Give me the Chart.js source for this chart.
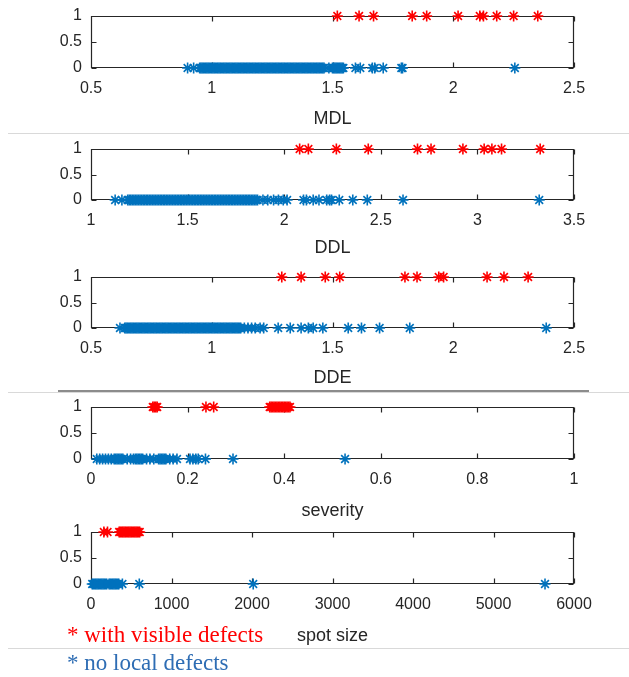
<!DOCTYPE html>
<html>
<head>
<meta charset="utf-8">
<script src="https://cdn.jsdelivr.net/npm/chart.js@4.4.1/dist/chart.umd.min.js"></script>
<style>
  body { margin: 0; background: #fff; width: 629px; height: 677px; position: relative; overflow: hidden; }
  canvas { position: absolute; left: 0; }
  .rule { position: absolute; height: 1px; background: #d9d9d9; }
  .note { position: absolute; left: 67px; font-family: "Liberation Serif", "Times New Roman", serif;
          font-size: 23px; line-height: 26px; white-space: nowrap; }
</style>
</head>
<body>
<div class="rule" style="left:8px;right:0;top:133px"></div>
<div class="rule" style="left:8px;right:0;top:392px"></div>
<div class="rule" style="left:58px;width:531px;top:390px;height:2px;background:#8c8c8c"></div>
<div class="rule" style="left:8px;right:0;top:648px"></div>

<canvas id="c1" width="629" height="126" style="top:4px"></canvas>
<canvas id="c2" width="629" height="122" style="top:137px"></canvas>
<canvas id="c3" width="629" height="124" style="top:265px"></canvas>
<canvas id="c4" width="629" height="127" style="top:395px"></canvas>
<canvas id="c5" width="629" height="127" style="top:520px"></canvas>

<div class="note" style="top:622px;color:#ff0000">* with visible defects</div>
<div class="note" style="top:650px;color:#2e6db4">* no local defects</div>

<script>
// ---------------- DATA ----------------
const yTicks = [0, 0.5, 1];

// MDL
const mdlDefect = [1.52, 1.61, 1.67, 1.83, 1.89, 2.02, 2.11, 2.125, 2.18, 2.25, 2.35];
const mdlClean = [0.90, 0.925,
  0.950, 0.955, 0.960, 0.965, 0.970, 0.975, 0.980, 0.985, 0.990, 0.995,
  1.000, 1.005, 1.010, 1.015, 1.020, 1.025, 1.030, 1.035, 1.040, 1.045,
  1.050, 1.055, 1.060, 1.065, 1.070, 1.075, 1.080, 1.085, 1.090, 1.095,
  1.100, 1.105, 1.110, 1.115, 1.120, 1.125, 1.130, 1.135, 1.140, 1.145,
  1.150, 1.155, 1.160, 1.165, 1.170, 1.175, 1.180, 1.185, 1.190, 1.195,
  1.200, 1.205, 1.210, 1.215, 1.220, 1.225, 1.230, 1.235, 1.240, 1.245,
  1.250, 1.255, 1.260, 1.265, 1.270, 1.275, 1.280, 1.285, 1.290, 1.295,
  1.300, 1.305, 1.310, 1.315, 1.320, 1.325, 1.330, 1.335, 1.340, 1.345,
  1.350, 1.355, 1.360, 1.365, 1.370, 1.375, 1.380, 1.385, 1.390, 1.395,
  1.400, 1.405, 1.410, 1.415, 1.420, 1.425, 1.430, 1.435, 1.440, 1.445,
  1.450, 1.455, 1.460, 1.465,
  1.485, 1.500, 1.505, 1.510, 1.515, 1.520, 1.525, 1.530, 1.535, 1.540, 1.545,
  1.595, 1.615, 1.665, 1.675, 1.71, 1.785, 1.79, 2.255];

// DDL
const ddlDefect = [2.08, 2.125, 2.27, 2.435, 2.69, 2.76, 2.925, 3.035, 3.075, 3.125, 3.325];
const ddlClean = [1.125, 1.16,
  1.190, 1.198, 1.206, 1.214, 1.222, 1.230, 1.238, 1.246, 1.254, 1.262,
  1.270, 1.278, 1.286, 1.294, 1.302, 1.310, 1.318, 1.326, 1.334, 1.342,
  1.350, 1.358, 1.366, 1.374, 1.382, 1.390, 1.398, 1.406, 1.414, 1.422,
  1.430, 1.438, 1.446, 1.454, 1.462, 1.470, 1.478, 1.486, 1.494, 1.502,
  1.510, 1.518, 1.526, 1.534, 1.542, 1.550, 1.558, 1.566, 1.574, 1.582,
  1.590, 1.598, 1.606, 1.614, 1.622, 1.630, 1.638, 1.646, 1.654, 1.662,
  1.670, 1.678, 1.686, 1.694, 1.702, 1.710, 1.718, 1.726, 1.734, 1.742,
  1.750, 1.758, 1.766, 1.774, 1.782, 1.790, 1.798, 1.806, 1.814, 1.822,
  1.830, 1.838, 1.846, 1.854, 1.862,
  1.89, 1.915, 1.945, 1.97, 1.995, 2.015, 2.10, 2.115, 2.15, 2.18, 2.22, 2.235, 2.245, 2.285,
  2.355, 2.43, 2.615, 3.32];

// DDE
const ddeDefect = [1.29, 1.37, 1.47, 1.53, 1.80, 1.85, 1.94, 1.96, 2.14, 2.21, 2.31];
const ddeClean = [0.62,
  0.640, 0.645, 0.650, 0.655, 0.660, 0.665, 0.670, 0.675, 0.680, 0.685,
  0.690, 0.695, 0.700, 0.705, 0.710, 0.715, 0.720, 0.725, 0.730, 0.735,
  0.740, 0.745, 0.750, 0.755, 0.760, 0.765, 0.770, 0.775, 0.780, 0.785,
  0.790, 0.795, 0.800, 0.805, 0.810, 0.815, 0.820, 0.825, 0.830, 0.835,
  0.840, 0.845, 0.850, 0.855, 0.860, 0.865, 0.870, 0.875, 0.880, 0.885,
  0.890, 0.895, 0.900, 0.905, 0.910, 0.915, 0.920, 0.925, 0.930, 0.935,
  0.940, 0.945, 0.950, 0.955, 0.960, 0.965, 0.970, 0.975, 0.980, 0.985,
  0.990, 0.995, 1.000, 1.005, 1.010, 1.015, 1.020, 1.025, 1.030, 1.035,
  1.040, 1.045, 1.050, 1.055, 1.060, 1.065, 1.070, 1.075, 1.080, 1.085,
  1.090, 1.095, 1.100, 1.105, 1.110, 1.115, 1.120,
  1.135, 1.15, 1.165, 1.18, 1.20, 1.215, 1.275, 1.325, 1.37, 1.40, 1.42, 1.46, 1.565, 1.62,
  1.695, 1.82, 2.385];

// severity
const sevDefect = [0.128, 0.131, 0.134, 0.137, 0.238, 0.254,
  0.370, 0.373, 0.376, 0.379, 0.382, 0.385, 0.388, 0.391, 0.394, 0.397, 0.400, 0.403,
  0.406, 0.409, 0.412];
const sevClean = [0.012, 0.018, 0.024, 0.030, 0.036, 0.042,
  0.048, 0.051, 0.054, 0.057, 0.060, 0.063, 0.066, 0.075, 0.082, 0.088,
  0.092, 0.095, 0.098, 0.101, 0.104, 0.107, 0.115, 0.122, 0.130,
  0.140, 0.143, 0.146, 0.149, 0.152, 0.155, 0.163, 0.170, 0.178,
  0.205, 0.211, 0.217, 0.222, 0.237, 0.294, 0.526];

// spot size
const spotDefect = [160, 205,
  350, 365, 380, 395, 410, 425, 440, 455, 470, 485, 500, 515, 530, 545, 560, 575, 590, 605];
const spotClean = [15, 30, 45, 60, 75, 90, 105, 120, 135, 150, 165, 180, 195,
  225, 240, 255, 270, 285, 300, 315, 330, 345,
  390, 600, 2015, 5640];

// ---------------- STYLE ----------------
const RED = "#ff0000";
const BLUE = "#0072bd";
const AXIS = "#262626";
const FONT = "'Liberation Sans', Arial, sans-serif";

// box with inward ticks on all four sides, like a MATLAB axes
const boxPlugin = {
    id: "box",
    beforeDatasetsDraw(chart) {
        const { ctx, chartArea: a, scales: { x, y } } = chart;
        const L = Math.round(a.left) + 0.5, R = Math.round(a.right) - 0.5;
        const T = Math.round(a.top) + 0.5, B = Math.round(a.bottom) - 0.5;
        ctx.save();
        ctx.strokeStyle = AXIS;
        ctx.lineWidth = 1.2;
        ctx.beginPath();
        ctx.rect(L, T, R - L, B - T);
        x.ticks.forEach(t => {
            const px = Math.round(x.getPixelForValue(t.value)) + 0.5;
            ctx.moveTo(px, B); ctx.lineTo(px, B - 5);
            ctx.moveTo(px, T); ctx.lineTo(px, T + 5);
        });
        y.ticks.forEach(t => {
            const py = Math.round(y.getPixelForValue(t.value)) + 0.5;
            ctx.moveTo(L, py); ctx.lineTo(L + 5, py);
            ctx.moveTo(R, py); ctx.lineTo(R - 5, py);
        });
        ctx.stroke();
        ctx.restore();
    }
};

function starSet(values, level, color) {
    return {
        data: values.map(v => ({ x: v, y: level })),
        pointStyle: "star",
        pointRadius: 5.5,
        pointBorderWidth: 1.6,
        pointBorderColor: color,
        borderColor: color,
        backgroundColor: color,
        clip: false
    };
}

function makePlot(id, title, xMin, xMax, step, defect, clean, axisH) {
    new Chart(document.getElementById(id), {
        type: "scatter",
        data: {
            datasets: [starSet(clean, 0, BLUE), starSet(defect, 1, RED)]
        },
        options: {
            responsive: false,
            animation: false,
            events: [],
            layout: { autoPadding: false, padding: { left: 0, right: 55, top: 12, bottom: 0 } },
            plugins: { legend: { display: false }, tooltip: { enabled: false } },
            scales: {
                x: {
                    type: "linear",
                    min: xMin,
                    max: xMax,
                    grid: { display: false, drawTicks: false },
                    border: { display: false },
                    ticks: {
                        stepSize: step,
                        padding: 11,
                        color: AXIS,
                        font: { family: FONT, size: 16 },
                        maxRotation: 0,
                        callback: v => String(Number(v.toFixed(4)))
                    },
                    title: {
                        display: true,
                        text: title,
                        color: AXIS,
                        font: { family: FONT, size: 18 },
                        padding: { top: 0, bottom: 0 }
                    },
                    afterFit: s => { s.height = axisH; s.paddingLeft = 0; s.paddingRight = 0; }
                },
                y: {
                    type: "linear",
                    min: 0,
                    max: 1,
                    grid: { display: false, drawTicks: false },
                    border: { display: false },
                    afterBuildTicks: s => { s.ticks = yTicks.map(v => ({ value: v })); },
                    ticks: {
                        padding: 9,
                        color: AXIS,
                        font: { family: FONT, size: 16 },
                        callback: v => String(v)
                    },
                    afterFit: s => { s.width = 91; s.paddingTop = 0; s.paddingBottom = 0; }
                }
            }
        },
        plugins: [boxPlugin]
    });
}

makePlot("c1", "MDL", 0.5, 2.5, 0.5, mdlDefect, mdlClean, 62);
makePlot("c2", "DDL", 1, 3.5, 0.5, ddlDefect, ddlClean, 59);
makePlot("c3", "DDE", 0.5, 2.5, 0.5, ddeDefect, ddeClean, 61);
makePlot("c4", "severity", 0, 1, 0.2, sevDefect, sevClean, 63);
makePlot("c5", "spot size", 0, 6000, 1000, spotDefect, spotClean, 63);
</script>
</body>
</html>
